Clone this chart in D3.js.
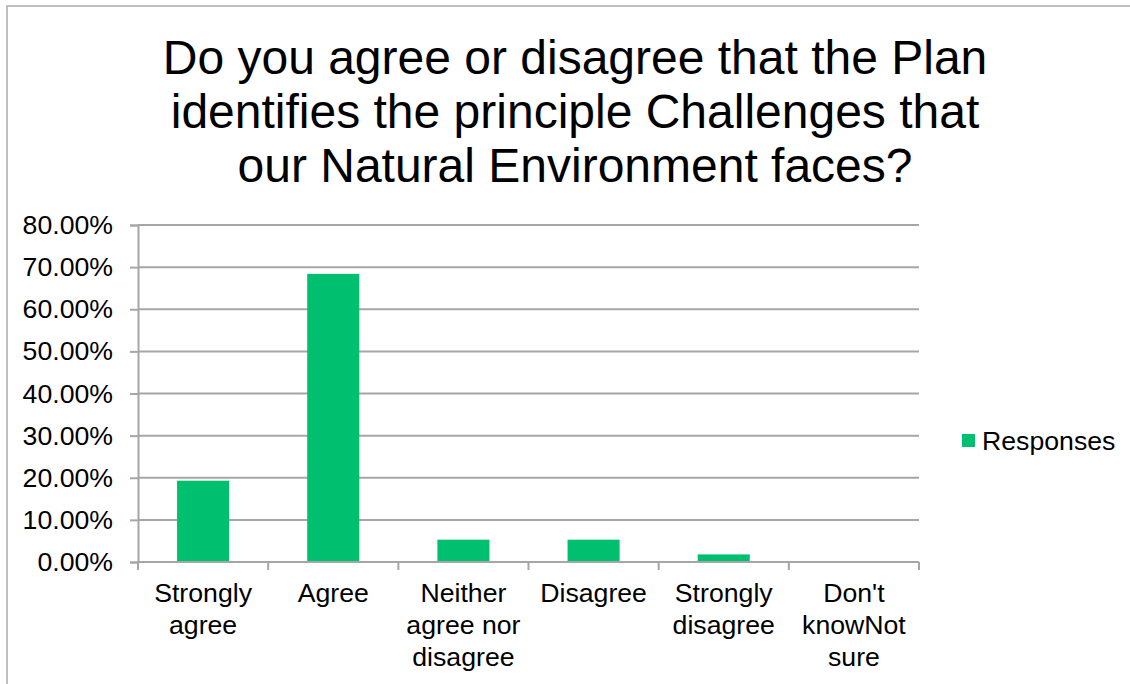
<!DOCTYPE html>
<html>
<head>
<meta charset="utf-8">
<script src="https://cdn.jsdelivr.net/npm/d3@7"></script>
<style>
  html, body { margin: 0; padding: 0; background: #fff; }
  svg { display: block; font-family: "Liberation Sans", Arial, sans-serif; }
</style>
</head>
<body>
<svg id="chart" width="1130" height="684"></svg>
<script>
// Survey responses
const titleLines = [
  "Do you agree or disagree that the Plan",
  "identifies the principle Challenges that",
  "our Natural Environment faces?"
];
const categories = [
  "Strongly agree",
  "Agree",
  "Neither agree nor disagree",
  "Disagree",
  "Strongly disagree",
  "Don't knowNot sure"
];
const responses = [0.193, 0.684, 0.053, 0.053, 0.018, 0];
const yTicks = [0, 0.1, 0.2, 0.3, 0.4, 0.5, 0.6, 0.7, 0.8];
const seriesName = "Responses";

const barColor = "#00BF6F";
const gridColor = "#a6a6a6";

const svg = d3.select("#chart");

// Outer frame
svg.append("rect")
  .attr("x", 7).attr("y", 6)
  .attr("width", 1200).attr("height", 800)
  .attr("fill", "none")
  .attr("stroke", "#ababab")
  .attr("stroke-width", 1.5);

// Title
svg.append("g")
  .selectAll("text")
  .data(titleLines)
  .join("text")
  .attr("x", 575)
  .attr("y", (d, i) => 74 + i * 54)
  .attr("text-anchor", "middle")
  .attr("font-size", 48)
  .attr("fill", "#000")
  .text(d => d);

const plot = { left: 138, right: 919, top: 225, bottom: 562 };

const x = d3.scaleBand()
  .domain(categories)
  .range([plot.left, plot.right])
  .paddingInner(0.6)
  .paddingOuter(0.3);

const y = d3.scaleLinear()
  .domain([0, 0.8])
  .range([plot.bottom, plot.top]);

// Gridlines
svg.append("g")
  .selectAll("line")
  .data(yTicks.filter(d => d > 0))
  .join("line")
  .attr("x1", plot.left).attr("x2", plot.right)
  .attr("y1", d => y(d)).attr("y2", d => y(d))
  .attr("stroke", gridColor)
  .attr("stroke-width", 2);

// Bars
svg.append("g")
  .selectAll("rect")
  .data(categories)
  .join("rect")
  .attr("x", d => x(d))
  .attr("width", x.bandwidth())
  .attr("y", (d, i) => y(responses[i]))
  .attr("height", (d, i) => y(0) - y(responses[i]))
  .attr("fill", barColor);

// Y axis
const yAxis = svg.append("g")
  .attr("transform", `translate(${plot.left},0)`)
  .call(d3.axisLeft(y)
    .tickValues(yTicks)
    .tickFormat(d3.format(".2%"))
    .tickSize(8)
    .tickPadding(17));
yAxis.select(".domain").attr("stroke", gridColor).attr("stroke-width", 2);
yAxis.selectAll(".tick line").attr("stroke", gridColor).attr("stroke-width", 2);
yAxis.selectAll(".tick text")
  .attr("font-family", "Liberation Sans, Arial, sans-serif")
  .attr("font-size", 26.67)
  .attr("fill", "#000");

// X axis: ticks sit on category boundaries
const boundaries = d3.range(categories.length + 1)
  .map(i => plot.left + (plot.right - plot.left) * i / categories.length);
const xAxis = svg.append("g");
xAxis.append("line")
  .attr("x1", plot.left).attr("x2", plot.right)
  .attr("y1", y(0)).attr("y2", y(0))
  .attr("stroke", gridColor).attr("stroke-width", 2);
xAxis.selectAll("line.tk")
  .data(boundaries)
  .join("line")
  .attr("class", "tk")
  .attr("x1", d => d).attr("x2", d => d)
  .attr("y1", y(0)).attr("y2", y(0) + 8)
  .attr("stroke", gridColor).attr("stroke-width", 2);

// Category labels, word-wrapped to the category width
const labels = xAxis.selectAll("text.cat")
  .data(categories)
  .join("text")
  .attr("class", "cat")
  .attr("text-anchor", "middle")
  .attr("font-size", 26.67)
  .attr("fill", "#000");

labels.each(function (d) {
  const el = d3.select(this);
  const cx = x(d) + x.bandwidth() / 2;
  const maxW = 126;
  const words = d.split(" ");
  const lines = [];
  let cur = [];
  const probe = el.append("tspan");
  words.forEach(w => {
    const test = cur.concat([w]).join(" ");
    probe.text(test);
    if (probe.node().getComputedTextLength() > maxW && cur.length) {
      lines.push(cur.join(" "));
      cur = [w];
    } else {
      cur.push(w);
    }
  });
  lines.push(cur.join(" "));
  probe.remove();
  lines.forEach((t, i) => {
    el.append("tspan")
      .attr("x", cx)
      .attr("y", 602 + i * 32)
      .text(t);
  });
});

// Legend
const legend = svg.append("g");
legend.append("rect")
  .attr("x", 962).attr("y", 434)
  .attr("width", 13).attr("height", 13)
  .attr("fill", barColor);
legend.append("text")
  .attr("x", 982).attr("y", 450)
  .attr("font-size", 26.67)
  .attr("fill", "#000")
  .text(seriesName);
</script>
</body>
</html>
